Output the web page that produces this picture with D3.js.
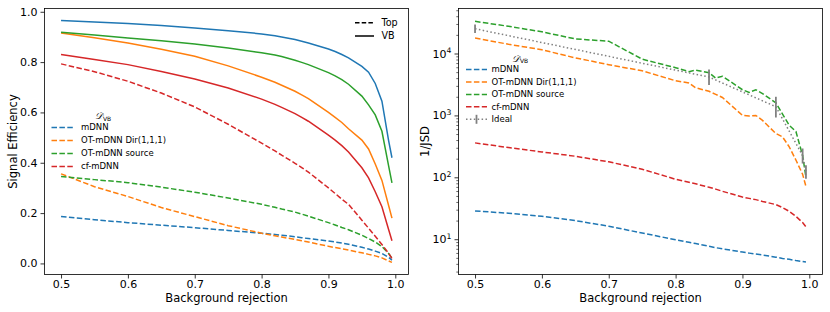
<!DOCTYPE html>
<html><head><meta charset="utf-8">
<script src="https://cdn.jsdelivr.net/npm/d3@7"></script>
<style>body{margin:0;background:#fff}svg{display:block;font-family:"DejaVu Sans",sans-serif}</style>
</head><body><svg id="c" width="830" height="312"></svg>
<script>
// ---------- data ----------
const bgRej = [0.5,0.55,0.6,0.65,0.7,0.75,0.8,0.82,0.83,0.85,0.86,0.87,0.9,0.91,0.92,0.93,0.95,0.96,0.97,0.98,0.99,0.995];
const modelNames = ["mDNN","OT-mDNN Dir(1,1,1)","OT-mDNN source","cf-mDNN"];
const modelColors = ["#1f77b4","#ff7f0e","#2ca02c","#d62728"];

// Signal efficiency, VB (solid)
const effVB_mDNN   = [.965,.959,.953,.945,.936,.925,.912,.905,.900,.890,.883,.876,.852,.842,.830,.817,.783,.760,.715,.645,.488,.42];
const effVB_OTdir  = [.916,.897,.876,.851,.823,.785,.740,.720,.708,.684,.670,.655,.600,.580,.560,.535,.490,.455,.395,.330,.230,.18];
const effVB_OTsrc  = [.919,.908,.896,.885,.872,.856,.837,.828,.822,.807,.799,.790,.758,.745,.730,.712,.665,.630,.590,.525,.388,.32];
const effVB_cf     = [.830,.810,.790,.763,.733,.697,.653,.632,.620,.595,.580,.565,.510,.490,.468,.443,.380,.340,.285,.225,.135,.09];
// Signal efficiency, Top (dashed)
const effTop_mDNN  = [.186,.174,.162,.152,.142,.131,.120,.115,.112,.106,.102,.099,.089,.085,.081,.076,.064,.057,.049,.040,.024,.013];
const effTop_OTdir = [.356,.305,.266,.222,.186,.150,.120,.110,.105,.095,.090,.085,.068,.063,.058,.053,.042,.036,.030,.022,.010,.004];
const effTop_OTsrc = [.345,.333,.321,.303,.283,.260,.235,.223,.216,.204,.196,.188,.162,.153,.143,.134,.112,.099,.085,.067,.040,.020];
const effTop_cf    = [.793,.762,.724,.677,.622,.553,.478,.447,.430,.398,.381,.363,.300,.278,.255,.235,.172,.140,.108,.075,.040,.020];

// 1/JSD (right panel, dashed)
const jsd_mDNN  = [28.6,26.3,23.4,20.0,16.2,12.6,9.8,8.9,8.5,7.7,7.3,7.0,6.2,5.96,5.75,5.56,5.13,4.9,4.73,4.52,4.37,4.27];
const jsd_OTdir = [17800,14100,11500,8500,6600,5250,3630,3350,2790,2450,2190,1950,1000,980,1000,830,510,450,310,190,112,71];
const jsd_OTsrc = [33100,27500,22400,17200,15800,8100,5900,5100,5400,4900,4000,4300,2600,2350,2600,2250,1600,1050,690,550,225,100];
const jsd_cf    = [360,302,257,219,178,135,93,83,78.5,69,64.5,59.5,48,45.7,43.6,40.7,36.3,32.4,28.2,23.4,18.6,15.8];
// Ideal with error bars
const idealX  = [0.5,0.85,0.95,0.99,0.995];
const idealY  = [25100,4170,1380,224,123];
const idealLo = [21400,3090,925,167,95];
const idealHi = [29500,5500,2000,292,157];

const xTicks = [0.5,0.6,0.7,0.8,0.9,1.0];
const effTicks = [0,0.2,0.4,0.6,0.8,1.0];
const jsdTicks = [10,100,1000,10000];
const splitLabels = ["Top","VB"];

// ---------- drawing ----------
const svg = d3.select("#c");
const topY = 8.5, botY = 274.5;
const TICKF = 11, LABF = 11.5, LEGF = 8.5;

function frame(g, x0, x1){
  g.append("rect").attr("x",x0).attr("y",topY).attr("width",x1-x0).attr("height",botY-topY)
   .attr("fill","none").attr("stroke","#000").attr("stroke-width",0.8);
}
function styleAxis(g){
  g.select(".domain").remove();
  g.selectAll(".tick line").attr("stroke","#000").attr("stroke-width",0.8);
  g.selectAll(".tick text").attr("font-size",TICKF).attr("fill","#000").attr("font-family","DejaVu Sans");
}
const dashed = "5.5,2.4";

// ===== Left panel =====
const L = {x0:44.5, x1:408.5};
const xL = d3.scaleLinear().domain([0.47525,1.01975]).range([L.x0,L.x1]);
const yL = d3.scaleLinear().domain([-0.044,1.013]).range([botY,topY]);
const gL = svg.append("g");
const lineL = d3.line().x((d,i)=>xL(bgRej[i])).y(d=>yL(d));
const vbSeries = [effVB_mDNN,effVB_OTdir,effVB_OTsrc,effVB_cf];
const topSeries = [effTop_mDNN,effTop_OTdir,effTop_OTsrc,effTop_cf];
vbSeries.forEach((s,k)=>{
  gL.append("path").attr("d",lineL(s)).attr("fill","none").attr("stroke",modelColors[k]).attr("stroke-width",1.5);
});
topSeries.forEach((s,k)=>{
  gL.append("path").attr("d",lineL(s)).attr("fill","none").attr("stroke",modelColors[k]).attr("stroke-width",1.5).attr("stroke-dasharray",dashed);
});
frame(gL,L.x0,L.x1);
gL.append("g").attr("transform",`translate(0,${botY})`)
  .call(d3.axisBottom(xL).tickValues(xTicks).tickFormat(d3.format(".1f")).tickSize(4).tickPadding(2))
  .call(styleAxis);
gL.append("g").attr("transform",`translate(${L.x0},0)`)
  .call(d3.axisLeft(yL).tickValues(effTicks).tickFormat(d3.format(".1f")).tickSize(4).tickPadding(3))
  .call(styleAxis);
gL.append("text").attr("x",(L.x0+L.x1)/2).attr("y",302).attr("text-anchor","middle").attr("font-size",LABF).text("Background rejection");
gL.append("text").attr("transform",`translate(16.5,${(topY+botY)/2}) rotate(-90)`).attr("text-anchor","middle").attr("font-size",LABF).text("Signal Efficiency");

// Top / VB legend
splitLabels.forEach((t,i)=>{
  const y = 22.7 + i*13.3;
  gL.append("line").attr("x1",355).attr("x2",374).attr("y1",y).attr("y2",y).attr("stroke","#000").attr("stroke-width",1.5)
    .attr("stroke-dasharray", i===0 ? "4.5,2.2" : null);
  gL.append("text").attr("x",381.5).attr("y",y).attr("dy","0.35em").attr("font-size",9.6).text(t);
});

function modelLegend(g, cx, titleY, firstY, step, lx0, lx1, tx, withIdeal){
  const tt = g.append("text").attr("x",cx).attr("y",titleY).attr("text-anchor","middle").attr("dy","0.35em");
  tt.append("tspan").attr("font-family","DejaVu Serif").attr("font-style","italic").attr("font-size",9.5).text("𝒟");
  tt.append("tspan").attr("font-size",6).attr("dy","1.5").text("VB");
  modelNames.forEach((n,i)=>{
    const y = firstY + i*step;
    g.append("line").attr("x1",lx0).attr("x2",lx1).attr("y1",y).attr("y2",y)
      .attr("stroke",modelColors[i]).attr("stroke-width",1.5).attr("stroke-dasharray",dashed);
    g.append("text").attr("x",tx).attr("y",y).attr("dy","0.35em").attr("font-size",LEGF).text(n);
  });
  if(withIdeal){
    const y = firstY + 4*step;
    g.append("line").attr("x1",lx0).attr("x2",lx1).attr("y1",y).attr("y2",y)
      .attr("stroke","#808080").attr("stroke-width",1.5).attr("stroke-dasharray","1.5,2.4");
    g.append("line").attr("x1",(lx0+lx1)/2).attr("x2",(lx0+lx1)/2).attr("y1",y-4.5).attr("y2",y+4.5)
      .attr("stroke","#808080").attr("stroke-width",1.8);
    g.append("text").attr("x",tx).attr("y",y).attr("dy","0.35em").attr("font-size",LEGF).text("Ideal");
  }
}
modelLegend(gL, 103, 113.5, 127.5, 13, 51.5, 74, 81, false);

// ===== Right panel =====
const R = {x0:458.5, x1:822.5};
const xR = d3.scaleLinear().domain([0.47525,1.01975]).range([R.x0,R.x1]);
const yR = d3.scaleLog().domain([Math.pow(10,0.43),Math.pow(10,4.727)]).range([botY,topY]);
const gR = svg.append("g");
const lineR = d3.line().x((d,i)=>xR(bgRej[i])).y(d=>yR(d));
[jsd_mDNN,jsd_OTdir,jsd_OTsrc,jsd_cf].forEach((s,k)=>{
  gR.append("path").attr("d",lineR(s)).attr("fill","none").attr("stroke",modelColors[k]).attr("stroke-width",1.5).attr("stroke-dasharray",dashed);
});
gR.append("path").attr("d",d3.line().x((d,i)=>xR(idealX[i])).y(d=>yR(d))(idealY))
  .attr("fill","none").attr("stroke","#808080").attr("stroke-width",1.5).attr("stroke-dasharray","1.5,2.4");
idealX.forEach((x,i)=>{
  gR.append("line").attr("x1",xR(x)).attr("x2",xR(x)).attr("y1",yR(idealLo[i])).attr("y2",yR(idealHi[i]))
    .attr("stroke","#808080").attr("stroke-width",1.8);
});
frame(gR,R.x0,R.x1);
gR.append("g").attr("transform",`translate(0,${botY})`)
  .call(d3.axisBottom(xR).tickValues(xTicks).tickFormat(d3.format(".1f")).tickSize(4).tickPadding(2))
  .call(styleAxis);
// minor log ticks
const [ymin,ymax] = yR.domain();
const minor = [];
for(let e=0;e<=4;e++) for(let m=2;m<=9;m++){const v=m*Math.pow(10,e); if(v>=ymin&&v<=ymax) minor.push(v);}
gR.append("g").attr("transform",`translate(${R.x0},0)`)
  .call(d3.axisLeft(yR).tickValues(minor).tickFormat("").tickSize(2.2))
  .call(g=>{g.select(".domain").remove(); g.selectAll(".tick line").attr("stroke","#000").attr("stroke-width",0.6);});
const yAx = gR.append("g").attr("transform",`translate(${R.x0},0)`)
  .call(d3.axisLeft(yR).tickValues(jsdTicks).tickFormat(d=>String(d)).tickSize(4).tickPadding(3))
  .call(styleAxis);
yAx.selectAll(".tick text").each(function(d){
  const t = d3.select(this); t.text("");
  t.append("tspan").text("10");
  t.append("tspan").attr("font-size",7.7).attr("dy","-0.55em").text(String(Math.round(Math.log10(d))));
});
gR.append("text").attr("x",(R.x0+R.x1)/2).attr("y",302).attr("text-anchor","middle").attr("font-size",LABF).text("Background rejection");
gR.append("text").attr("transform",`translate(428.5,${(topY+botY)/2}) rotate(-90)`).attr("text-anchor","middle").attr("font-size",LABF).text("1/JSD");

modelLegend(gR, 520, 56, 69.5, 12.45, 466, 487, 491.5, true);
</script></body></html>
